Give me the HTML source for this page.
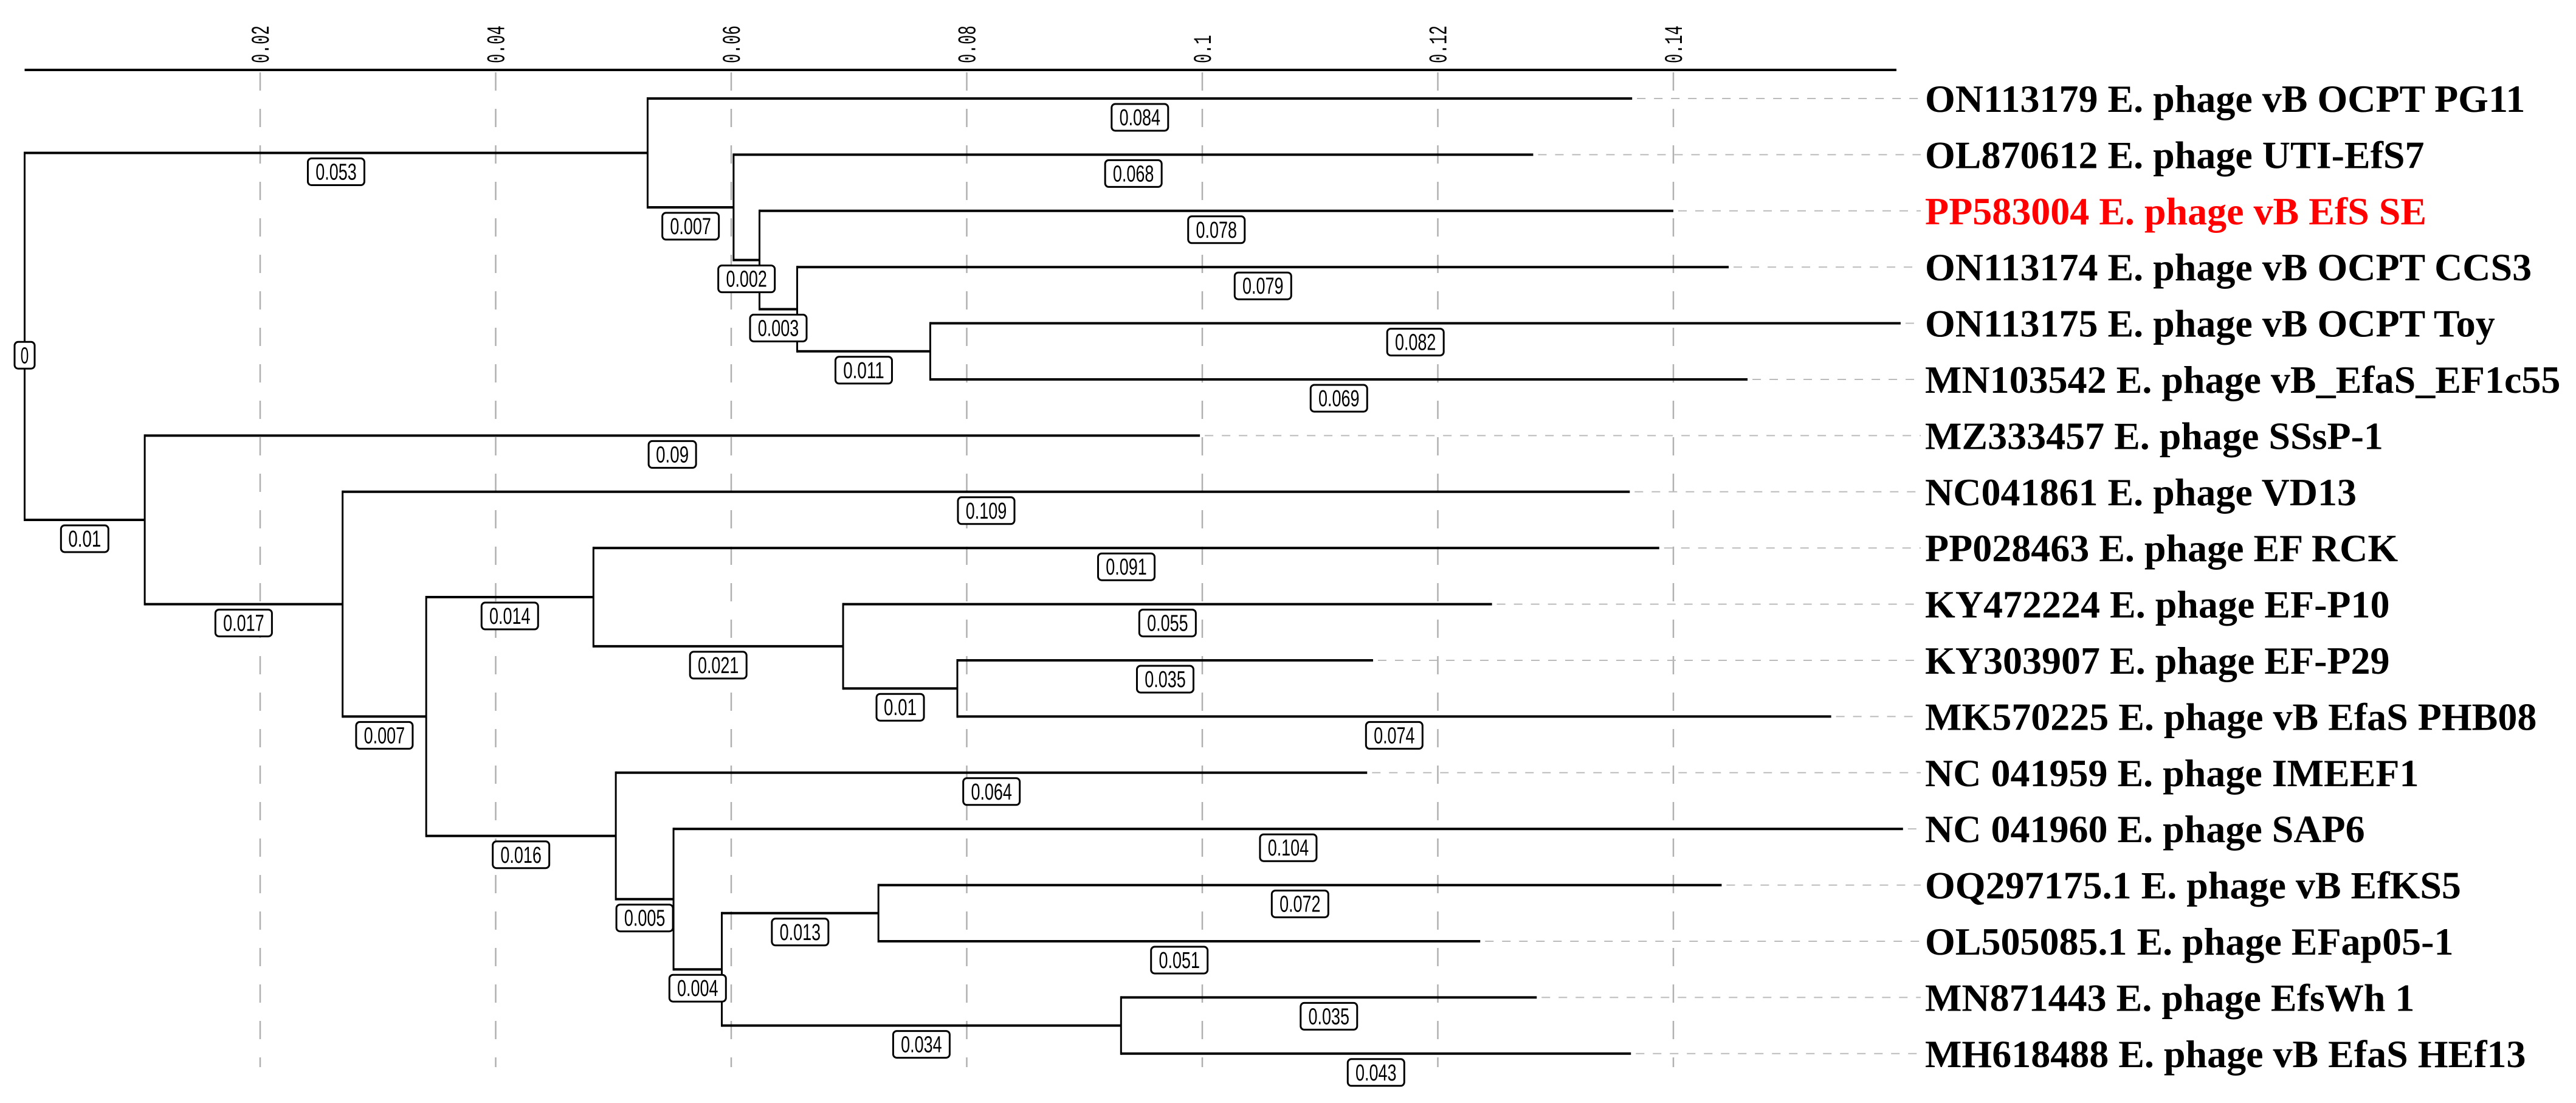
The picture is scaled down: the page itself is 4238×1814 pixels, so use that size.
<!DOCTYPE html>
<html><head><meta charset="utf-8"><style>
html,body{margin:0;padding:0;background:#fff;}
svg{display:block;}
</style></head><body>
<svg id="chart" xmlns="http://www.w3.org/2000/svg" width="4238" height="1814" viewBox="0 0 4238 1814"></svg>
<script>
const tickValues = [0.02, 0.04, 0.06, 0.08, 0.1, 0.12, 0.14];
const tickLabels = ["0.02", "0.04", "0.06", "0.08", "0.1", "0.12", "0.14"];
const leafNames = ["ON113179 E. phage vB OCPT PG11","OL870612 E. phage UTI-EfS7","PP583004 E. phage vB EfS SE","ON113174 E. phage vB OCPT CCS3","ON113175 E. phage vB OCPT Toy","MN103542 E. phage vB_EfaS_EF1c55","MZ333457 E. phage SSsP-1","NC041861 E. phage VD13","PP028463 E. phage EF RCK","KY472224 E. phage EF-P10","KY303907 E. phage EF-P29","MK570225 E. phage vB EfaS PHB08","NC 041959 E. phage IMEEF1","NC 041960 E. phage SAP6","OQ297175.1 E. phage vB EfKS5","OL505085.1 E. phage EFap05-1","MN871443 E. phage EfsWh 1","MH618488 E. phage vB EfaS HEf13"];
const highlightLeaf = [false,false,true,false,false,false,false,false,false,false,false,false,false,false,false,false,false,false];
const nodeIds =      ["root","A","L0","A2","L1","A3","L2","A4","L3","A5","L4","L5","B","L6","B2","L7","B3","B4","L8","B6","L9","B7","L10","L11","B5","L12","B8","L13","B9","B10","L14","L15","B11","L16","L17"];
const nodeParents =  [null,"root","A","A","A2","A2","A3","A3","A4","A4","A5","A5","root","B","B","B2","B2","B3","B4","B4","B6","B6","B7","B7","B3","B5","B5","B8","B8","B9","B10","B10","B9","B11","B11"];
const branchLengths =[0,0.0529,0.0836,0.0073,0.0679,0.0022,0.0776,0.0032,0.0791,0.0113,0.0824,0.0694,0.0102,0.0896,0.0168,0.1093,0.0071,0.0142,0.0905,0.0212,0.0551,0.0097,0.0353,0.0742,0.0161,0.0638,0.0049,0.1044,0.0041,0.0133,0.0716,0.0511,0.0339,0.0353,0.0433];
const leafIndex =    [-1,-1,0,-1,1,-1,2,-1,3,-1,4,5,-1,6,-1,7,-1,-1,8,-1,9,-1,10,11,-1,12,-1,13,-1,-1,14,15,-1,16,17];

const NS = "http://www.w3.org/2000/svg";
const svg = document.getElementById("chart");
const X0 = 40.5, PXU = 19375, Y0 = 162, DY = 92.4;
const xScale = v => X0 + v * PXU;
const yScale = i => Y0 + i * DY;
function mk(tag, attrs, parent) {
  const e = document.createElementNS(NS, tag);
  for (const k in attrs) e.setAttribute(k, attrs[k]);
  (parent || svg).appendChild(e);
  return e;
}
const axis = mk("g", {});


const axLine = mk("line", {x1: X0, y1: 115, x2: 3120, y2: 115, stroke: "#000", "stroke-width": 4}, axis);


tickValues.forEach((v, i) => {
  const x = xScale(v);
  const g = mk("line", {x1: x, y1: 119, x2: x, y2: 1755, stroke: "#b0b0b0", "stroke-width": 2.5, "stroke-dasharray": "30 30"}, axis);
  
  
  const t = mk("text", {x: 0, y: 0, transform: `translate(${x + 14},104) rotate(-90)`, "font-family": "Liberation Mono, monospace", "font-size": 42, fill: "#000", textLength: tickLabels[i].length * 15.5, lengthAdjust: "spacingAndGlyphs"}, axis);
  t.textContent = tickLabels[i];
  
  
});
const idx = {}; nodeIds.forEach((id, i) => idx[id] = i);
const children = nodeIds.map(() => []);
nodeParents.forEach((p, i) => { if (p !== null) children[idx[p]].push(i); });
const depth = [], ypos = [];
function dfs(i, d) {
  depth[i] = d + branchLengths[i];
  if (leafIndex[i] >= 0) { ypos[i] = yScale(leafIndex[i]); return; }
  let ys = [];
  children[i].forEach(c => { dfs(c, depth[i]); ys.push(ypos[c]); });
  ypos[i] = (Math.min(...ys) + Math.max(...ys)) / 2;
}
dfs(0, 0);
const tree = mk("g", {});


const labelsG = mk("g", {});


nodeIds.forEach((id, i) => {
  const xEnd = xScale(depth[i]);
  const xStart = xScale(depth[i] - branchLengths[i]);
  const y = ypos[i];
  if (i > 0) {
    const h = mk("line", {x1: xStart, y1: y, x2: xEnd, y2: y, stroke: "#000", "stroke-width": 4}, tree);
    
    
  }
  if (children[i].length) {
    const ys = children[i].map(c => ypos[c]);
    const v = mk("line", {x1: xEnd, y1: Math.min(...ys) - 2, x2: xEnd, y2: Math.max(...ys) + 2, stroke: "#000", "stroke-width": 3}, tree);
    
    
  }
  const txt = String(Math.round(branchLengths[i] * 1000) / 1000);
  const cx = (xStart + xEnd) / 2, cy = y + 31;
  const w = txt.length * 15 + 18, hgt = 44;
  const lg = mk("g", {}, labelsG);
  
  
  mk("rect", {x: cx - w / 2, y: cy - hgt / 2, width: w, height: hgt, rx: 6, fill: "#fff", stroke: "#000", "stroke-width": 3}, lg);
  const t = mk("text", {x: cx, y: cy + 13, "text-anchor": "middle", "font-family": "Liberation Sans Narrow, Liberation Sans, sans-serif", "font-size": 38, fill: "#000", textLength: txt.length * 13.5, lengthAdjust: "spacingAndGlyphs"}, lg);
  t.textContent = txt;
  if (leafIndex[i] >= 0) {
    const li = leafIndex[i];
    const d = mk("line", {x1: xEnd + 8, y1: y, x2: 3160, y2: y, stroke: "#bbb", "stroke-width": 2, "stroke-dasharray": "14 14"}, tree);
    
    
    const lt = mk("text", {x: 3167, y: y + 22, "font-family": "Liberation Serif, serif", "font-weight": "bold", "font-size": 64, fill: highlightLeaf[li] ? "#ff0000" : "#000"});
    lt.textContent = leafNames[li];
    
    
  }
});
</script>
</body></html>
